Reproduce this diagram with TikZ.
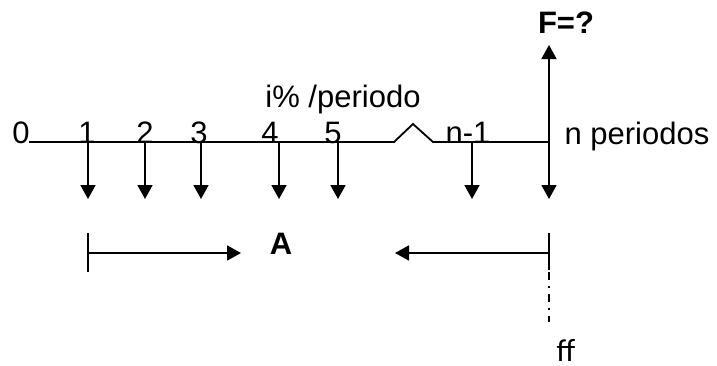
\documentclass[tikz,border=0pt]{standalone}
\usepackage{fontspec}
\setmainfont{Liberation Sans}
\newfontfamily\calibfont{Carlito}
\usetikzlibrary{arrows.meta}
\begin{document}
\begin{tikzpicture}[x=1pt,y=-1pt,
  ln/.style={line width=1.8pt, line join=miter},
  tip/.style={-{Triangle[length=14pt,width=15pt]}},
  lbl/.style={inner sep=0pt, anchor=base, font=\fontsize{31}{36}\selectfont},
  blbl/.style={lbl, font=\fontsize{31}{36}\selectfont\bfseries},
]
\useasboundingbox (0,0) rectangle (717,365);
% timeline points
\coordinate (t0) at (29,142);
\coordinate (t1) at (88,142);
\coordinate (t2) at (145,142);
\coordinate (t3) at (201,142);
\coordinate (t4) at (279,142);
\coordinate (t5) at (338,142);
\coordinate (z1) at (394,142);
\coordinate (z2) at (413,124);
\coordinate (z3) at (433,142);
\coordinate (tm) at (472,142);
\coordinate (tn) at (549,142);
% arrow ends
\coordinate (d1) at (88,199);
\coordinate (d2) at (145,199);
\coordinate (d3) at (201,199);
\coordinate (d4) at (279,199);
\coordinate (d5) at (338,199);
\coordinate (dm) at (472,199);
\coordinate (dn) at (549,199);
\coordinate (fu) at (549,45);
% labels
\node[lbl] (l0) at (21,143) {0};
\node[lbl] (l1) at (87,143) {1};
\node[lbl] (l2) at (145,143) {2};
\node[lbl] (l3) at (199,143) {3};
\node[lbl] (l4) at (270,143) {4};
\node[lbl] (l5) at (333,143) {5};
\node[lbl] (lm) at (468,143) {n-1};
\node[lbl] (ln) at (637,144) {n periodos};
\node[lbl] (rate) at (343,107) {i\% /periodo};
\node[blbl] (F) at (566,33) {F=?};
\node[blbl] (A) at (281,254) {A};
\node[lbl, font=\fontsize{32}{36}\selectfont\calibfont] (ff) at (566,361) {ff};
% timeline
\draw[ln] (t0) -- (z1) -- (z2) -- (z3) -- (tn);
% payments
\foreach \p in {1,2,3,4,5,m,n} \draw[ln,tip] (t\p) -- (d\p);
\draw[ln,tip] (tn) -- (fu);
% annuity span
\coordinate (bl1) at (88,233);
\coordinate (bl2) at (88,272);
\coordinate (al0) at (88,253);
\coordinate (al1) at (241,253);
\coordinate (br1) at (549,233);
\coordinate (br2) at (549,270);
\coordinate (br3) at (549,272);
\coordinate (br4) at (549,322);
\coordinate (ar0) at (549,253);
\coordinate (ar1) at (395,253);
\draw[ln] (bl1) -- (bl2);
\draw[ln,tip] (al0) -- (al1);
\draw[ln] (br1) -- (br2);
\draw[ln,tip] (ar0) -- (ar1);
\draw[line width=1.6pt, dash pattern=on 8pt off 6pt on 2pt off 6pt] (br3) -- (br4);
\end{tikzpicture}
\end{document}
